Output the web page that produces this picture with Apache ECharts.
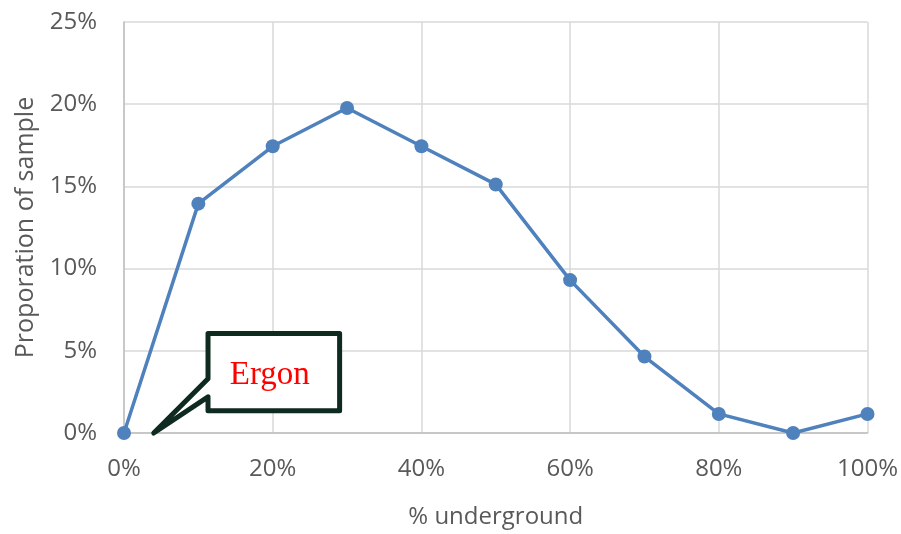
<!DOCTYPE html>
<html><head><meta charset="utf-8">
<script src="https://cdn.jsdelivr.net/npm/echarts@6/dist/echarts.min.js"></script>
<style>html,body{margin:0;padding:0;background:#fff}#c{width:901px;height:534px}</style>
</head><body><div id="c"></div>
<script>
const undergroundPct = [0, 10, 20, 30, 40, 50, 60, 70, 80, 90, 100];
const proportion = [0, 13.95, 17.44, 19.77, 17.44, 15.12, 9.30, 4.65, 1.16, 0, 1.16];
const xTicks = [0, 20, 40, 60, 80, 100];
const yTicks = [0, 5, 10, 15, 20, 25];
const calloutText = 'Ergon';
// callout in data coordinates: tip, box corners, pointer joins
const calloutTip = [4, 0];
const calloutBox = { x0: 11.3, x1: 29.0, y0: 1.35, y1: 6.05, joinTop: 3.3, joinBottom: 2.2 };

const chart = echarts.init(document.getElementById('c'));
const font = 'Open Sans';
chart.setOption({
  animation: false,
  grid: { left: 124, right: 33, top: 22, bottom: 100 },
  xAxis: {
    type: 'value', min: xTicks[0], max: xTicks[xTicks.length - 1], interval: 20,
    name: '% underground', nameLocation: 'middle', nameGap: 72,
    nameTextStyle: { fontFamily: font, fontSize: 24, color: '#595959' },
    axisLine: { show: true, lineStyle: { color: '#bfbfbf', width: 1.5 } },
    axisTick: { show: false },
    splitLine: { show: true, lineStyle: { color: '#d9d9d9', width: 1.5 } },
    axisLabel: { fontFamily: font, fontSize: 24, color: '#595959', margin: 24, formatter: v => v + '%' }
  },
  yAxis: {
    type: 'value', min: yTicks[0], max: yTicks[yTicks.length - 1], interval: 5,
    name: 'Proporation of sample', nameLocation: 'middle', nameGap: 80,
    nameTextStyle: { fontFamily: font, fontSize: 25, color: '#595959' },
    axisLine: { show: true, lineStyle: { color: '#bfbfbf', width: 1.5 } },
    axisTick: { show: false },
    splitLine: { show: true, lineStyle: { color: '#d9d9d9', width: 1.5 } },
    axisLabel: { fontFamily: font, fontSize: 24, color: '#595959', margin: 27, formatter: v => v + '%' }
  },
  series: [{
    type: 'line',
    data: undergroundPct.map((x, i) => [x, proportion[i]]),
    symbol: 'circle', symbolSize: 14,
    lineStyle: { color: '#4f81bd', width: 3.5 },
    itemStyle: { color: '#4f81bd' },
    clip: false
  }]
});

const p = (x, y) => chart.convertToPixel({ gridIndex: 0 }, [x, y]);
const b = calloutBox;
const pts = [
  p(b.x0, b.y1), p(b.x1, b.y1), p(b.x1, b.y0), p(b.x0, b.y0),
  p(b.x0, b.joinBottom), p(calloutTip[0], calloutTip[1]), p(b.x0, b.joinTop)
];
const center = p((b.x0 + b.x1) / 2, (b.y0 + b.y1) / 2);
chart.setOption({
  graphic: [
    { type: 'polygon', shape: { points: pts }, style: { fill: '#fff', stroke: '#0f2a1f', lineWidth: 5, lineJoin: 'round' }, z: 100 },
    { type: 'text', x: center[0] - 4, y: center[1] + 3, style: { text: calloutText, fill: '#ff0000', font: '33px "Liberation Serif"', align: 'center', verticalAlign: 'middle' }, z: 101 }
  ]
});
</script></body></html>
